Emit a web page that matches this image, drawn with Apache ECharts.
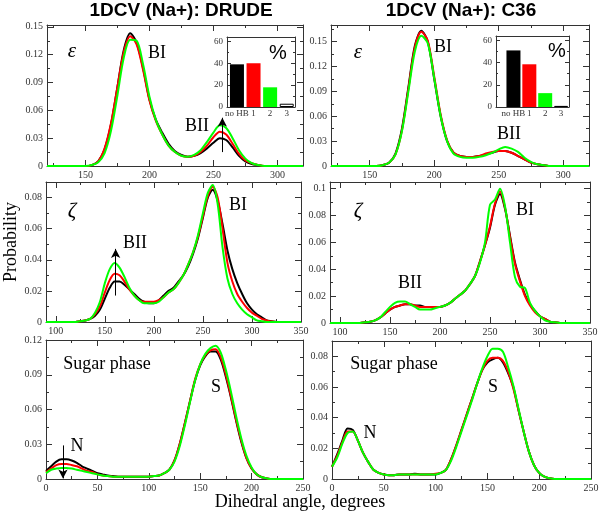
<!DOCTYPE html>
<html>
<head>
<meta charset="utf-8">
<script src="https://cdn.jsdelivr.net/npm/echarts@6/dist/echarts.min.js"></script>
<style>
  html, body { margin: 0; padding: 0; background: #fff; }
  #chart { width: 600px; height: 514px; }
</style>
</head>
<body>
<div id="chart"></div>
<script>
// x grids (degrees)
const angleEps = [120,125,130,135,140,145,150,155,160,165,170,175,180,185,190,195,200,205,210,215,220,225,230,235,240,245,250,255,260,265,270,275,280,285,290,295,300,305,310,315,320];
const angleZeta = [90,95,100,105,110,115,120,125,130,135,140,145,150,155,160,165,170,175,180,185,190,195,200,205,210,215,220,225,230,235,240,245,250,255,260,265,270,275,280,285,290,295,300,305,310,315,320,325,330,335,340,345,350];
const anglePhase = [0,5,10,15,20,25,30,35,40,45,50,55,60,65,70,75,80,85,90,95,100,105,110,115,120,125,130,135,140,145,150,155,160,165,170,175,180,185,190,195,200,205,210,215,220,225,230,235,240,245,250];

// epsilon, DRUDE
const epsDrudeBlack = [0,0,0,0,0,0,0,0.001,0.005,0.018,0.045,0.085,0.125,0.143,0.133,0.106,0.072,0.050,0.036,0.024,0.016,0.012,0.010,0.011,0.014,0.019,0.025,0.030,0.028,0.020,0.011,0.005,0.002,0.001,0,0,0,0,0,0,0];
const epsDrudeRed   = [0,0,0,0,0,0,0,0.001,0.005,0.019,0.046,0.085,0.123,0.140,0.131,0.104,0.071,0.049,0.034,0.022,0.015,0.011,0.010,0.011,0.015,0.022,0.031,0.037,0.034,0.024,0.013,0.006,0.003,0.001,0,0,0,0,0,0,0];
const epsDrudeGreen = [0,0,0,0,0,0,0,0.001,0.004,0.014,0.038,0.076,0.117,0.136,0.135,0.110,0.075,0.050,0.034,0.022,0.015,0.011,0.010,0.012,0.017,0.026,0.036,0.044,0.041,0.030,0.017,0.008,0.003,0.001,0,0,0,0,0,0,0];
// epsilon, C36
const epsC36Black = [0,0,0,0,0,0,0,0,0.001,0.004,0.015,0.045,0.095,0.145,0.163,0.150,0.105,0.060,0.030,0.016,0.012,0.011,0.011,0.012,0.014,0.016,0.018,0.018,0.016,0.012,0.008,0.004,0.002,0.001,0,0,0,0,0,0,0];
const epsC36Red   = [0,0,0,0,0,0,0,0,0.001,0.004,0.014,0.043,0.093,0.143,0.162,0.151,0.108,0.062,0.031,0.016,0.012,0.011,0.011,0.012,0.015,0.017,0.018,0.018,0.016,0.012,0.008,0.004,0.002,0.001,0,0,0,0,0,0,0];
const epsC36Green = [0,0,0,0,0,0,0,0,0.001,0.004,0.014,0.042,0.090,0.138,0.157,0.148,0.106,0.060,0.030,0.015,0.011,0.010,0.010,0.011,0.013,0.016,0.020,0.023,0.021,0.017,0.010,0.005,0.002,0.001,0,0,0,0,0,0,0];

// zeta, DRUDE
const zetaDrudeBlack = [0,0,0,0,0,0,0,0.0005,0.001,0.002,0.004,0.008,0.015,0.022,0.026,0.026,0.024,0.021,0.018,0.015,0.013,0.012,0.012,0.014,0.017,0.020,0.022,0.026,0.030,0.036,0.044,0.054,0.067,0.080,0.085,0.078,0.063,0.046,0.034,0.025,0.018,0.012,0.008,0.005,0.003,0.001,0.0005,0,0,0,0,0,0];
const zetaDrudeRed   = [0,0,0,0,0,0,0,0.0005,0.001,0.002,0.005,0.010,0.019,0.027,0.031,0.030,0.026,0.021,0.017,0.014,0.013,0.013,0.013,0.014,0.016,0.019,0.021,0.025,0.030,0.037,0.045,0.055,0.068,0.081,0.087,0.080,0.060,0.038,0.026,0.018,0.013,0.009,0.006,0.004,0.002,0.001,0.0003,0,0,0,0,0,0];
const zetaDrudeGreen = [0,0,0,0,0,0,0,0.0005,0.001,0.002,0.006,0.013,0.025,0.034,0.038,0.035,0.029,0.022,0.017,0.014,0.012,0.012,0.012,0.013,0.016,0.019,0.021,0.025,0.030,0.037,0.045,0.056,0.070,0.083,0.088,0.076,0.048,0.028,0.018,0.012,0.008,0.005,0.003,0.001,0.0005,0,0,0,0,0,0,0,0];
// zeta, C36
const zetaC36Black = [0,0,0,0,0,0,0,0.0005,0.001,0.002,0.004,0.007,0.010,0.012,0.013,0.014,0.014,0.013,0.013,0.012,0.012,0.012,0.012,0.013,0.015,0.018,0.021,0.024,0.029,0.035,0.046,0.058,0.071,0.088,0.096,0.085,0.065,0.045,0.032,0.021,0.014,0.009,0.005,0.003,0.001,0.0005,0,0,0,0,0,0,0];
const zetaC36Red   = [0,0,0,0,0,0,0,0.0005,0.001,0.002,0.004,0.007,0.010,0.012,0.013,0.014,0.014,0.013,0.012,0.012,0.012,0.012,0.012,0.013,0.015,0.018,0.021,0.024,0.029,0.035,0.046,0.058,0.072,0.089,0.098,0.086,0.064,0.044,0.031,0.020,0.013,0.008,0.005,0.003,0.001,0.0005,0,0,0,0,0,0,0];
const zetaC36Green = [0,0,0,0,0,0,0,0.0005,0.001,0.002,0.004,0.008,0.012,0.015,0.016,0.016,0.014,0.012,0.010,0.010,0.010,0.011,0.012,0.013,0.015,0.018,0.021,0.024,0.029,0.035,0.045,0.060,0.088,0.092,0.100,0.087,0.060,0.034,0.027,0.026,0.015,0.009,0.005,0.002,0.001,0.0005,0,0,0,0,0,0,0];

// sugar phase, DRUDE
const phaseDrudeBlack = [0.007,0.011,0.015,0.017,0.017,0.016,0.014,0.011,0.009,0.007,0.005,0.004,0.003,0.0025,0.002,0.002,0.002,0.002,0.002,0.002,0.002,0.0025,0.003,0.005,0.008,0.016,0.030,0.048,0.067,0.085,0.098,0.106,0.110,0.110,0.103,0.088,0.070,0.050,0.032,0.018,0.009,0.004,0.0015,0.0005,0,0,0,0,0,0,0];
const phaseDrudeRed   = [0.006,0.009,0.012,0.013,0.013,0.012,0.011,0.009,0.007,0.006,0.004,0.003,0.0025,0.002,0.002,0.002,0.002,0.002,0.002,0.002,0.002,0.0025,0.003,0.005,0.008,0.016,0.030,0.048,0.067,0.086,0.099,0.107,0.111,0.112,0.105,0.090,0.071,0.051,0.033,0.018,0.009,0.004,0.0015,0.0005,0,0,0,0,0,0,0];
const phaseDrudeGreen = [0.005,0.008,0.009,0.0095,0.0095,0.009,0.008,0.007,0.006,0.005,0.004,0.003,0.0025,0.002,0.002,0.002,0.002,0.002,0.002,0.002,0.002,0.0025,0.003,0.005,0.008,0.015,0.028,0.046,0.066,0.085,0.099,0.108,0.113,0.115,0.109,0.094,0.075,0.054,0.035,0.020,0.010,0.004,0.0015,0.0005,0,0,0,0,0,0,0];
// sugar phase, C36
const phaseC36Black = [0.008,0.016,0.025,0.033,0.032,0.025,0.017,0.011,0.006,0.004,0.003,0.0025,0.0025,0.003,0.003,0.003,0.0035,0.003,0.003,0.003,0.003,0.004,0.006,0.013,0.022,0.032,0.042,0.052,0.062,0.071,0.076,0.078,0.079,0.076,0.069,0.060,0.045,0.031,0.018,0.009,0.004,0.0015,0.0005,0,0,0,0,0,0,0,0];
const phaseC36Red   = [0.008,0.015,0.024,0.031,0.031,0.025,0.017,0.011,0.006,0.004,0.003,0.0025,0.0025,0.003,0.003,0.003,0.003,0.003,0.003,0.003,0.0035,0.004,0.006,0.013,0.022,0.032,0.042,0.052,0.062,0.071,0.077,0.079,0.079,0.077,0.070,0.059,0.045,0.031,0.018,0.009,0.004,0.0015,0.0005,0,0,0,0,0,0,0,0];
const phaseC36Green = [0.008,0.014,0.023,0.030,0.031,0.025,0.017,0.011,0.006,0.004,0.003,0.0025,0.0025,0.003,0.003,0.003,0.003,0.003,0.003,0.003,0.003,0.004,0.006,0.012,0.021,0.031,0.041,0.051,0.062,0.072,0.080,0.085,0.085,0.083,0.073,0.061,0.046,0.031,0.018,0.009,0.004,0.0015,0.0005,0,0,0,0,0,0,0,0];

// H-bond insets (%)
const hbLabels = ['no HB', '1', '2', '3'];
const hbDrude = [39, 40, 18, 3];
const hbC36 = [51, 38.5, 12.5, 1];
const hbColors = ['#000000', '#ff0000', '#00ff00', '#ffffff'];

// tick values
const ticksEpsX = [150, 200, 250, 300], minorEpsX = [125, 175, 225, 275];
const ticksZetaX = [100, 150, 200, 250, 300, 350], minorZetaX = [125, 175, 225, 275, 325];
const ticksPhaseX = [0, 50, 100, 150, 200, 250], minorPhaseX = [25, 75, 125, 175, 225];
const ticksY03 = [0, 0.03, 0.06, 0.09, 0.12, 0.15], minorY03 = [0.015, 0.045, 0.075, 0.105, 0.135, 0.165];
const ticksY02 = [0, 0.02, 0.04, 0.06, 0.08, 0.1], minorY02 = [0.01, 0.03, 0.05, 0.07, 0.09];
const ticksHbY = [0, 20, 40, 60], minorHbY = [10, 30, 50];

const AX = '#333';
const xAxes = [];
const yAxes = [];
const fmtNum = v => String(+v.toFixed(4));

function axis(pos, grid, min, max, ticks, len, showLine, showLabel, fmt, fs) {
    return {
        type: 'value', gridIndex: grid, position: pos, min: min, max: max,
        axisLine: {show: showLine, onZero: false, lineStyle: {color: AX, width: 1}},
        axisTick: {show: true, inside: true, length: len, customValues: ticks, lineStyle: {color: AX, width: 1}},
        axisLabel: {show: showLabel, customValues: ticks, formatter: fmt || fmtNum,
            fontFamily: 'Liberation Serif', fontSize: fs || 10, color: '#333', margin: 4},
        splitLine: {show: false}
    };
}

// 4 axes per side pair: main (labels), minor, mirrored main, mirrored minor
function addAxes(list, posA, posB, grid, min, max, major, minor, fmt, fs, majLen, minLen) {
    const idx = list.length;
    list.push(axis(posA, grid, min, max, major, majLen, true, true, fmt, fs));
    if (minor) list.push(axis(posA, grid, min, max, minor, minLen, false, false));
    list.push(axis(posB, grid, min, max, major, majLen, true, false));
    if (minor) list.push(axis(posB, grid, min, max, minor, minLen, false, false));
    return idx;
}

const grids = [
    {left: 47, top: 25, width: 256, height: 141},
    {left: 331, top: 25, width: 258, height: 141},
    {left: 46, top: 182, width: 255, height: 140},
    {left: 330, top: 182, width: 260, height: 141},
    {left: 46, top: 340, width: 257, height: 139},
    {left: 332, top: 341, width: 259, height: 138},
    {left: 227, top: 37, width: 68, height: 70, show: true, backgroundColor: '#fff', borderWidth: 0},
    {left: 496, top: 36, width: 73, height: 71, show: true, backgroundColor: '#fff', borderWidth: 0}
];

const panels = [
    {x: angleEps, xr: [120, 320], xt: ticksEpsX, xm: minorEpsX, yr: [0, 0.152], yt: ticksY03, ym: minorY03.slice(0, 5),
     lines: [epsDrudeBlack, epsDrudeRed, epsDrudeGreen], arrow: [[257, 0.015], [257, 0.052]]},
    {x: angleEps, xr: [120, 320], xt: ticksEpsX, xm: minorEpsX, yr: [0, 0.17], yt: ticksY03, ym: minorY03,
     lines: [epsC36Black, epsC36Red, epsC36Green]},
    {x: angleZeta, xr: [90, 350], xt: ticksZetaX, xm: minorZetaX, yr: [0, 0.09], yt: ticksY02.slice(0, 5), ym: minorY02.slice(0, 4),
     lines: [zetaDrudeBlack, zetaDrudeRed, zetaDrudeGreen], arrow: [[161, 0.017], [161, 0.047]]},
    {x: angleZeta, xr: [90, 350], xt: ticksZetaX, xm: minorZetaX, yr: [0, 0.105], yt: ticksY02, ym: minorY02,
     lines: [zetaC36Black, zetaC36Red, zetaC36Green]},
    {x: anglePhase, xr: [0, 250], xt: ticksPhaseX, xm: minorPhaseX, yr: [0, 0.12], yt: ticksY03.slice(0, 5), ym: minorY03.slice(0, 4),
     lines: [phaseDrudeBlack, phaseDrudeRed, phaseDrudeGreen], arrow: [[16.5, 0.029], [16.5, 0.0005]]},
    {x: anglePhase, xr: [0, 250], xt: ticksPhaseX, xm: minorPhaseX, yr: [0, 0.09], yt: ticksY02.slice(0, 5), ym: minorY02.slice(0, 4),
     lines: [phaseC36Black, phaseC36Red, phaseC36Green]}
];

const lineColors = ['#000000', '#ff0000', '#00ff00'];
const series = [];

panels.forEach((p, g) => {
    const xi = addAxes(xAxes, 'bottom', 'top', g, p.xr[0], p.xr[1], p.xt, p.xm, null, 10, 6, 3);
    const yi = addAxes(yAxes, 'left', 'right', g, p.yr[0], p.yr[1], p.yt, p.ym, null, 10, 6, 3);
    p.lines.forEach((vals, k) => {
        const s = {
            type: 'line', xAxisIndex: xi, yAxisIndex: yi,
            data: p.x.map((a, i) => [a, vals[i]]),
            showSymbol: false, smooth: 0.3, silent: true,
            lineStyle: {color: lineColors[k], width: 2},
            itemStyle: {color: lineColors[k]}
        };
        if (k === 0 && p.arrow) {
            s.markLine = {
                silent: true, symbol: ['none', 'arrow'], symbolSize: [7, 9],
                lineStyle: {color: '#000', width: 1, type: 'solid'},
                label: {show: false},
                data: [[{coord: p.arrow[0]}, {coord: p.arrow[1]}]]
            };
        }
        series.push(s);
    });
});

// insets
[[hbDrude, -0.6], [hbC36, -1.1]].forEach(([vals, xmin], j) => {
    const g = 6 + j;
    const xi = xAxes.length;
    xAxes.push(axis('bottom', g, xmin, 3.5, [0, 1, 2, 3], 0, true, true, v => hbLabels[Math.round(v)], 9));
    xAxes[xi].axisLabel.margin = 2;
    xAxes.push(axis('top', g, xmin, 3.5, [0, 1, 2, 3], 0, true, false));
    const yi = addAxes(yAxes, 'left', 'right', g, 0, 64, ticksHbY, minorHbY, null, 9, 4, 2);
    series.push({
        type: 'bar', xAxisIndex: xi, yAxisIndex: yi, barWidth: 14, silent: true,
        data: vals.map((v, i) => ({
            value: [i, v],
            itemStyle: {color: hbColors[i], borderColor: i === 3 ? '#000' : hbColors[i], borderWidth: i === 3 ? 1 : 0}
        }))
    });
});

function txt(text, x, y, font, extra) {
    return Object.assign({
        type: 'text', x: x, y: y, silent: true, z: 100,
        style: Object.assign({text: text, font: font, fill: '#000', align: 'center', verticalAlign: 'middle'}, {})
    }, extra || {});
}
const serif18 = '18px "Liberation Serif"';
const greek = 'italic 21px "Liberation Serif"';

const graphic = [
    txt('1DCV (Na+): DRUDE', 181, 11, 'bold 19px "Liberation Sans"'),
    txt('1DCV (Na+): C36', 461, 11, 'bold 19px "Liberation Sans"'),
    txt('Probability', 11, 242, '18px "Liberation Serif"', {rotation: Math.PI / 2}),
    txt('Dihedral angle, degrees', 300, 502, '18px "Liberation Serif"'),
    txt('ε', 72, 51, greek), txt('BI', 157, 53, serif18), txt('BII', 197, 126, serif18),
    txt('%', 278, 53, '20px "Liberation Sans"'),
    txt('ε', 358, 52, greek), txt('BI', 443, 47, serif18), txt('BII', 509, 134, serif18),
    txt('%', 557, 51, '20px "Liberation Sans"'),
    txt('ζ', 72, 211, greek), txt('BII', 135, 243, serif18), txt('BI', 238, 205, serif18),
    txt('ζ', 358, 211, greek), txt('BII', 410, 283, serif18), txt('BI', 525, 210, serif18),
    txt('Sugar phase', 107, 364, serif18), txt('S', 216, 387, serif18), txt('N', 77, 446, serif18),
    txt('Sugar phase', 394, 364, serif18), txt('S', 493, 387, serif18), txt('N', 370, 433, serif18)
];

const chart = echarts.init(document.getElementById('chart'));
chart.setOption({
    animation: false,
    backgroundColor: '#fff',
    grid: grids.map(g => Object.assign({outerBoundsMode: 'none', containLabel: false}, g)),
    xAxis: xAxes,
    yAxis: yAxes,
    series: series,
    graphic: graphic
});
</script>
</body>
</html>
